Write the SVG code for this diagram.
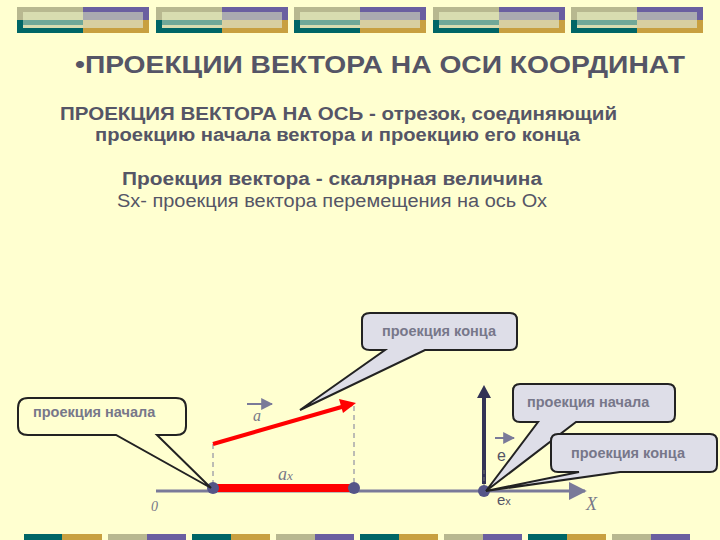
<svg xmlns="http://www.w3.org/2000/svg" width="720" height="540" viewBox="0 0 720 540" xml:space="preserve">
<defs>
<style>
.t{font-family:"Liberation Sans",Arial,sans-serif;font-weight:bold;fill:#555566}
.n{font-family:"Liberation Sans",Arial,sans-serif;fill:#555566}
.c{font-family:"Liberation Sans",Arial,sans-serif;font-weight:bold;font-size:14.5px;fill:#77778a}
.i{font-family:"Liberation Serif","Times New Roman",serif;font-style:italic;fill:#777788}
.bub{stroke:#222;stroke-width:2}
</style>
<g id="blk">
<rect x="0" y="0" width="66" height="13" fill="#b8b890"/>
<rect x="66" y="0" width="66" height="13" fill="#6a5fa0"/>
<rect x="0" y="13" width="66" height="13" fill="#006666"/>
<rect x="66" y="13" width="66" height="13" fill="#c8a040"/>
<rect x="6" y="5" width="60" height="16" fill="#d8dcb0"/>
<rect x="66" y="5" width="60" height="16" fill="#d8cfa0"/>
<rect x="6" y="13" width="60" height="5" fill="#70a898"/>
<rect x="66" y="5" width="60" height="8" fill="#aaaab0"/>
</g>
<marker id="ar" viewBox="0 0 10 10" refX="9" refY="5" markerWidth="6" markerHeight="6" orient="auto"><path d="M0 0L10 5L0 10z" fill="#7a7a99"/></marker>
</defs>
<rect width="720" height="540" fill="#ffffd0"/>
<use href="#blk" x="17" y="7"/><use href="#blk" x="156" y="7"/><use href="#blk" x="294" y="7"/><use href="#blk" x="433" y="7"/><use href="#blk" x="571" y="7"/>
<g id="bottom">
<rect x="24" y="534" width="38" height="6" fill="#006666"/><rect x="62" y="534" width="40" height="6" fill="#c8a040"/>
<rect x="108" y="534" width="39" height="6" fill="#b8b890"/><rect x="147" y="534" width="39" height="6" fill="#6a5fa0"/>
<rect x="192" y="534" width="39" height="6" fill="#006666"/><rect x="231" y="534" width="39" height="6" fill="#c8a040"/>
<rect x="276" y="534" width="39" height="6" fill="#b8b890"/><rect x="315" y="534" width="39" height="6" fill="#6a5fa0"/>
<rect x="360" y="534" width="39" height="6" fill="#006666"/><rect x="399" y="534" width="39" height="6" fill="#c8a040"/>
<rect x="444" y="534" width="39" height="6" fill="#b8b890"/><rect x="483" y="534" width="39" height="6" fill="#6a5fa0"/>
<rect x="528" y="534" width="39" height="6" fill="#006666"/><rect x="567" y="534" width="39" height="6" fill="#c8a040"/>
<rect x="612" y="534" width="39" height="6" fill="#b8b890"/><rect x="651" y="534" width="39" height="6" fill="#6a5fa0"/>
</g>
<text class="t" x="75" y="73" font-size="23" fill="#444455" textLength="610" lengthAdjust="spacingAndGlyphs">•ПРОЕКЦИИ ВЕКТОРА НА ОСИ КООРДИНАТ</text>
<text class="t" x="60" y="120" font-size="18" textLength="557" lengthAdjust="spacingAndGlyphs">ПРОЕКЦИЯ ВЕКТОРА НА ОСЬ  -  отрезок, соединяющий</text>
<text class="t" x="95" y="141" font-size="18" textLength="485" lengthAdjust="spacingAndGlyphs">проекцию  начала вектора и проекцию его конца</text>
<text class="t" x="122" y="185" font-size="18" textLength="420" lengthAdjust="spacingAndGlyphs">Проекция  вектора  -  скалярная величина</text>
<text class="n" x="117" y="207" font-size="18" textLength="430" lengthAdjust="spacingAndGlyphs">Sx- проекция вектора перемещения на ось Ох</text>
<g id="axis">
<line x1="156" y1="491" x2="490" y2="491" stroke="#7a7a99" stroke-width="3"/>
<line x1="490" y1="491" x2="585" y2="491" stroke="#7a7a99" stroke-width="3" marker-end="url(#ar)"/>
<line x1="213" y1="444" x2="213" y2="488" stroke="#7a7a99" stroke-dasharray="5,4"/>
<line x1="354" y1="406" x2="354" y2="488" stroke="#7a7a99" stroke-dasharray="5,4"/>
<line x1="215" y1="488" x2="352" y2="488" stroke="#ff0000" stroke-width="8"/>
<line x1="305" y1="489" x2="352" y2="489" stroke="#ff0000" stroke-width="5"/>
<line x1="213" y1="444" x2="352" y2="404" stroke="#ff0000" stroke-width="4"/>
<path d="M339 399L356 403L343 413z" fill="#ff0000"/>
<circle cx="213" cy="488" r="6" fill="#555588"/><circle cx="354" cy="488" r="6" fill="#555588"/>
<line x1="484" y1="484" x2="484" y2="392" stroke="#333355" stroke-width="4"/>
<path d="M477 398L484 385L491 398z" fill="#333355"/>
<line x1="484" y1="488" x2="484" y2="470" stroke="#777" stroke-dasharray="4,3"/>
<circle cx="484" cy="491" r="6" fill="#555588"/>
<line x1="247" y1="404" x2="272" y2="404" stroke="#7a7a99" stroke-width="2" marker-end="url(#ar)"/>
<line x1="495" y1="438" x2="514" y2="438" stroke="#7a7a99" stroke-width="2" marker-end="url(#ar)"/>
</g>
<text class="i" x="253" y="421" font-size="16">a</text>
<text class="i" x="278" y="480" font-size="18">a<tspan font-size="13">x</tspan></text>
<text class="i" x="151" y="511" font-size="14">0</text>
<text class="n" x="497" y="461" font-size="16" fill="#777788">e</text>
<text class="n" x="497" y="505" font-size="15" fill="#777788">e<tspan font-size="11">x</tspan></text>
<text class="i" x="586" y="510" font-size="18" font-style="normal">X</text>
<g id="b1">
<path class="bub" d="M28 398H176Q186 398 186 408V426Q186 435 176 435H157L211 488L116 435H28Q18 435 18 426V408Q18 398 28 398z" fill="#ffffd0"/>
<text class="c" x="33" y="417">проекция начала</text>
</g>
<g id="b2">
<path class="bub" d="M370 313H510Q517 313 517 320V344Q517 350 510 350H425L300 410L385 350H370Q362 350 362 344V320Q362 313 370 313z" fill="#dedee8"/>
<text class="c" x="382" y="336">проекция конца</text>
</g>
<g id="b3">
<path class="bub" d="M520 384H668Q675 384 675 391V415Q675 422 668 422H576L486 491L538 422H520Q513 422 513 415V391Q513 384 520 384z" fill="#dedee8"/>
<text class="c" x="527" y="407">проекция начала</text>
</g>
<g id="b4">
<path class="bub" d="M558 434H710Q717 434 717 441V465Q717 472 710 472H620L486 491L579 472H558Q551 472 551 465V441Q551 434 558 434z" fill="#dedee8"/>
<text class="c" x="571" y="458">проекция  конца</text>
</g>
</svg>
